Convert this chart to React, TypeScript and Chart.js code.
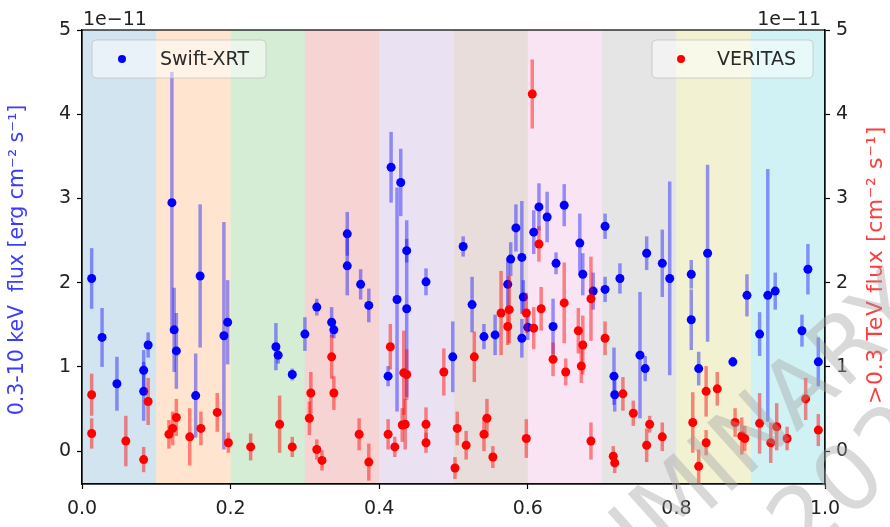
import React, { useEffect, useRef } from "react";
import { Chart, registerables } from "chart.js";

Chart.register(...registerables);

// ---- data (flux in units of 1e-11) ----
const xrtPhase = [0.013, 0.027, 0.047, 0.083, 0.083, 0.089, 0.121, 0.124, 0.127, 0.153, 0.159, 0.191, 0.196,
  0.261, 0.264, 0.283, 0.300, 0.316, 0.336, 0.339, 0.357, 0.357, 0.375, 0.386,
  0.416, 0.429, 0.424, 0.437, 0.437, 0.412, 0.463, 0.513, 0.525, 0.499, 0.541, 0.556,
  0.584, 0.577, 0.573, 0.592, 0.594, 0.592, 0.600, 0.608, 0.615, 0.626, 0.649, 0.638, 0.634,
  0.670, 0.674, 0.688, 0.704, 0.704, 0.724, 0.716, 0.717, 0.751, 0.758, 0.760, 0.781, 0.791,
  0.820, 0.820, 0.830, 0.842, 0.876, 0.895, 0.912, 0.923, 0.933, 0.977, 0.969, 0.991];
const xrtFlux = [2.05, 1.35, 0.80, 0.96, 0.71, 1.26, 2.95, 1.44, 1.19, 0.66, 2.08, 1.37, 1.53,
  1.24, 1.14, 0.91, 1.39, 1.71, 1.53, 1.44, 2.58, 2.20, 1.98, 1.73,
  3.37, 3.19, 1.80, 1.69, 2.38, 0.89, 2.01, 2.43, 1.74, 1.12, 1.36, 1.38,
  2.65, 2.28, 1.98, 2.30, 1.83, 1.34, 1.47, 2.60, 2.90, 2.78, 2.92, 2.23, 1.48,
  2.47, 2.10, 1.90, 2.67, 1.92, 2.05, 0.89, 0.67, 1.14, 0.98, 2.35, 2.23, 2.05,
  2.10, 1.56, 0.98, 2.35, 1.06, 1.85, 1.39, 1.85, 1.90, 2.16, 1.43, 1.06];
const xrtErr = [0.36, 0.35, 0.32, 0.24, 0.35, 0.15, 1.55, 0.50, 0.45, 0.50, 0.85, 1.35, 0.50,
  0.28, 0.10, 0.07, 0.20, 0.10, 0.18, 0.10, 0.26, 0.35, 0.18, 0.20,
  0.42, 0.40, 1.33, 1.05, 0.14, 0.12, 0.16, 0.12, 0.33, 0.42, 0.15, 0.24,
  0.28, 0.20, 0.30, 0.67, 0.20, 0.23, 0.15, 0.26, 0.28, 0.30, 0.25, 0.13, 0.33,
  0.35, 0.25, 0.22, 0.15, 0.15, 0.18, 0.34, 0.20, 0.75, 0.15, 0.20, 0.40, 1.15,
  0.17, 0.36, 0.20, 1.05, 0.06, 0.25, 0.26, 1.50, 0.22, 0.30, 0.19, 0.29];

const vtsPhase = [0.013, 0.013, 0.059, 0.083, 0.089, 0.117, 0.122, 0.127, 0.145, 0.160, 0.182, 0.197,
  0.227, 0.266, 0.283, 0.306, 0.308, 0.316, 0.323, 0.336, 0.339, 0.373, 0.386,
  0.412, 0.415, 0.421, 0.431, 0.435, 0.433, 0.437, 0.463, 0.463, 0.487,
  0.502, 0.505, 0.517, 0.528, 0.541, 0.545, 0.553, 0.564, 0.575, 0.573, 0.598, 0.598,
  0.606, 0.615, 0.618, 0.608, 0.634, 0.649, 0.651, 0.668, 0.674, 0.672, 0.685, 0.685,
  0.704, 0.715, 0.717, 0.728, 0.742, 0.764, 0.760, 0.781,
  0.822, 0.830, 0.840, 0.840, 0.855, 0.879, 0.888, 0.892, 0.912, 0.927, 0.935, 0.949, 0.974, 0.991];
const vtsFlux = [0.67, 0.21, 0.12, -0.10, 0.59, 0.20, 0.27, 0.40, 0.17, 0.27, 0.46, 0.10,
  0.05, 0.32, 0.05, 0.39, 0.69, 0.02, -0.11, 1.12, 0.69, 0.20, -0.13,
  0.20, 1.24, 0.05, 0.31, 0.32, 0.93, 0.91, 0.32, 0.10, 0.94,
  -0.20, 0.27, 0.07, 1.12, 0.20, 0.39, -0.07, 1.64, 1.68, 1.48, 1.64, 0.15,
  4.24, 2.46, 1.69, 1.46, 1.09, 1.76, 0.94, 1.43, 1.26, 1.01, 1.81, 0.12,
  1.34, -0.06, -0.14, 0.68, 0.45, 0.32, 0.07, 0.17,
  0.34, -0.18, 0.71, 0.10, 0.74, 0.34, 0.18, 0.15, 0.33, 0.10, 0.29, 0.15, 0.62, 0.25];
const vtsErr = [0.25, 0.18, 0.30, 0.15, 0.28, 0.17, 0.20, 0.22, 0.34, 0.20, 0.23, 0.12,
  0.16, 0.34, 0.12, 0.20, 0.25, 0.12, 0.12, 0.26, 0.20, 0.19, 0.22,
  0.18, 0.27, 0.12, 0.20, 0.30, 0.50, 0.30, 0.20, 0.12, 0.28,
  0.13, 0.20, 0.17, 0.30, 0.20, 0.23, 0.13, 0.50, 0.40, 0.22, 0.24, 0.23,
  0.41, 0.21, 0.26, 0.25, 0.20, 0.48, 0.16, 0.27, 0.35, 0.20, 0.50, 0.22,
  0.20, 0.12, 0.12, 0.20, 0.15, 0.10, 0.20, 0.17,
  0.36, 0.20, 0.30, 0.15, 0.20, 0.17, 0.22, 0.15, 0.36, 0.24, 0.28, 0.14, 0.25, 0.19];

const bandEdges = [0, 0.1, 0.2, 0.3, 0.4, 0.5, 0.6, 0.7, 0.8, 0.9, 1.0];
const bandColors = ["#1f77b4", "#ff7f0e", "#2ca02c", "#d62728", "#9467bd",
  "#8c564b", "#e377c2", "#7f7f7f", "#bcbd22", "#17becf"];
const xTicks = [0, 0.2, 0.4, 0.6, 0.8, 1.0];
const yTicks = [0, 1, 2, 3, 4, 5];

const xrtLabel = "Swift-XRT";
const vtsLabel = "VERITAS";
const leftTitle = "0.3-10 keV  flux [erg cm\u207B\u00B2 s\u207B\u00B9]";
const rightTitle = ">0.3 TeV flux [cm\u207B\u00B2 s\u207B\u00B9]";
const offsetText = "1e\u221211";
const watermark1 = "PRELIMINARY";
const watermark2 = "2023";

const FONT = "'DejaVu Sans', sans-serif";

function hexA(hex: string, a: number) {
  const r = parseInt(hex.slice(1, 3), 16), g = parseInt(hex.slice(3, 5), 16), b = parseInt(hex.slice(5, 7), 16);
  return `rgba(${r},${g},${b},${a})`;
}

function roundRect(ctx: CanvasRenderingContext2D, x: number, y: number, w: number, h: number, r: number) {
  ctx.beginPath();
  ctx.moveTo(x + r, y);
  ctx.lineTo(x + w - r, y);
  ctx.arcTo(x + w, y, x + w, y + r, r);
  ctx.lineTo(x + w, y + h - r);
  ctx.arcTo(x + w, y + h, x + w - r, y + h, r);
  ctx.lineTo(x + r, y + h);
  ctx.arcTo(x, y + h, x, y + h - r, r);
  ctx.lineTo(x, y + r);
  ctx.arcTo(x, y, x + r, y, r);
  ctx.closePath();
}

const overlayPlugin = {
  id: "overlay",
  beforeDatasetsDraw(chart: any) {
    const { ctx, chartArea: ca } = chart;
    const xs = chart.scales.x;
    ctx.save();
    for (let i = 0; i < bandColors.length; i++) {
      const x0 = xs.getPixelForValue(bandEdges[i]);
      const x1 = xs.getPixelForValue(bandEdges[i + 1]);
      ctx.fillStyle = hexA(bandColors[i], 0.2);
      ctx.fillRect(x0, ca.top, x1 - x0, ca.bottom - ca.top);
    }
    ctx.restore();
  },
  beforeDatasetDraw(chart: any, args: any) {
    const ds = chart.data.datasets[args.index];
    const meta = args.meta;
    const xs = meta.xScale, ys = meta.yScale;
    const { ctx, chartArea: ca } = chart;
    ctx.save();
    ctx.beginPath();
    ctx.rect(ca.left, ca.top, ca.right - ca.left, ca.bottom - ca.top);
    ctx.clip();
    ctx.strokeStyle = ds.errColor;
    ctx.lineWidth = 3.5;
    ctx.lineCap = "butt";
    ds.data.forEach((p: any) => {
      const px = xs.getPixelForValue(p.x);
      const y0 = ys.getPixelForValue(p.y - p.e);
      const y1 = ys.getPixelForValue(p.y + p.e);
      ctx.beginPath();
      ctx.moveTo(px, y0);
      ctx.lineTo(px, y1);
      ctx.stroke();
    });
    ctx.restore();
  },
  afterDraw(chart: any) {
    const { ctx, chartArea: ca } = chart;
    ctx.save();
    // frame
    ctx.strokeStyle = "#000";
    ctx.lineWidth = 1.2;
    ctx.strokeRect(ca.left, ca.top, ca.right - ca.left, ca.bottom - ca.top);

    // legends
    const drawLegend = (x: number, y: number, w: number, h: number, color: string, label: string, mx: number, tx: number) => {
      roundRect(ctx, x, y, w, h, 4);
      ctx.fillStyle = "rgba(255,255,255,0.5)";
      ctx.fill();
      ctx.strokeStyle = "rgba(190,190,190,0.7)";
      ctx.lineWidth = 1;
      ctx.stroke();
      ctx.fillStyle = color;
      ctx.beginPath();
      ctx.arc(mx, y + h / 2, 4, 0, Math.PI * 2);
      ctx.fill();
      ctx.fillStyle = "#2a2a2a";
      ctx.font = `19px ${FONT}`;
      ctx.textAlign = "left";
      ctx.textBaseline = "middle";
      ctx.fillText(label, tx, y + h / 2 + 1);
    };
    drawLegend(ca.left + 10, ca.top + 10, 174, 38, "#0000ff", xrtLabel, ca.left + 40, ca.left + 78);
    drawLegend(ca.right - 173, ca.top + 10, 161, 38, "#ff0000", vtsLabel, ca.right - 144, ca.right - 108);

    // offset texts
    ctx.fillStyle = "#222";
    ctx.font = `19px ${FONT}`;
    ctx.textBaseline = "alphabetic";
    ctx.textAlign = "left";
    ctx.fillText(offsetText, ca.left + 1, ca.top - 5);
    ctx.textAlign = "right";
    ctx.fillText(offsetText, ca.right - 4, ca.top - 5);

    // axis titles
    ctx.textAlign = "center";
    ctx.textBaseline = "middle";
    ctx.save();
    ctx.font = `20.5px ${FONT}`;
    ctx.translate(18, 260);
    ctx.rotate(-Math.PI / 2);
    ctx.fillStyle = "#3c3cff";
    ctx.fillText(leftTitle, 0, 0);
    ctx.restore();
    ctx.save();
    ctx.font = `22px ${FONT}`;
    (ctx as any).letterSpacing = "0.6px";
    ctx.translate(876, 265);
    ctx.rotate(-Math.PI / 2);
    ctx.fillStyle = "#ff3c3c";
    ctx.fillText(rightTitle, 0, 0);
    ctx.restore();

    // watermark
    ctx.save();
    const ang = (-42 * Math.PI) / 180;
    ctx.font = `92px ${FONT}`;
    ctx.fillStyle = "rgba(160,160,160,0.4)";
    ctx.textAlign = "left";
    ctx.textBaseline = "alphabetic";
    const pre = ctx.measureText("PRELI").width;
    ctx.translate(666, 550);
    ctx.rotate(ang);
    ctx.fillText(watermark1, -pre, 0);
    ctx.fillText(watermark2, 95, 100);
    ctx.restore();

    ctx.restore();
  },
};

export default function App() {
  const ref = useRef<HTMLCanvasElement | null>(null);
  useEffect(() => {
    if (!ref.current) return;
    Chart.defaults.font.family = FONT;
    const tickFont = { size: 19, family: FONT };
    const yCommon = {
      type: "linear" as const,
      min: -0.39,
      max: 5,
      afterBuildTicks: (s: any) => { s.ticks = yTicks.map((v) => ({ value: v })); },
      ticks: { font: tickFont, color: "#222", padding: 6, callback: (v: any) => String(v) },
      grid: { drawOnChartArea: false, tickLength: 5, color: "#000", tickWidth: 1.2 },
      border: { color: "#000", width: 1.2 },
    };
    const chart = new Chart(ref.current, {
      type: "scatter",
      data: {
        datasets: [
          {
            label: vtsLabel,
            data: vtsPhase.map((x, i) => ({ x, y: vtsFlux[i], e: vtsErr[i] })),
            yAxisID: "y2",
            backgroundColor: "#ff0000",
            borderWidth: 0,
            pointRadius: 4.5,
            order: 1,
            errColor: "rgba(255,0,0,0.45)",
          } as any,
          {
            label: xrtLabel,
            data: xrtPhase.map((x, i) => ({ x, y: xrtFlux[i], e: xrtErr[i] })),
            yAxisID: "y",
            backgroundColor: "#0000ff",
            borderWidth: 0,
            pointRadius: 4.5,
            order: 2,
            errColor: "rgba(0,0,255,0.4)",
          } as any,
        ],
      },
      options: {
        responsive: false,
        animation: false,
        events: [],
        layout: { padding: { top: 30, left: 0, right: 0, bottom: 0 } },
        plugins: { legend: { display: false }, tooltip: { enabled: false } },
        scales: {
          x: {
            type: "linear",
            position: "bottom",
            min: 0,
            max: 1,
            afterBuildTicks: (s: any) => { s.ticks = xTicks.map((v) => ({ value: v })); },
            ticks: { font: tickFont, color: "#222", padding: 9, maxRotation: 0, autoSkip: false, callback: (v: any) => Number(v).toFixed(1) },
            grid: { drawOnChartArea: false, tickLength: 5, color: "#000", tickWidth: 1.2 },
            border: { color: "#000", width: 1.2 },
            afterFit: (s: any) => { s.height = 43; },
          },
          y: { ...yCommon, position: "left", afterFit: (s: any) => { s.width = 82; } },
          y2: { ...yCommon, position: "right", afterFit: (s: any) => { s.width = 65; } },
        } as any,
      },
      plugins: [overlayPlugin],
    });
    return () => chart.destroy();
  }, []);
  return (
    <div style={{ position: "absolute", left: 0, top: 0, width: 890, height: 527, background: "#fff" }}>
      <canvas ref={ref} width={890} height={527} style={{ display: "block" }} />
    </div>
  );
}
